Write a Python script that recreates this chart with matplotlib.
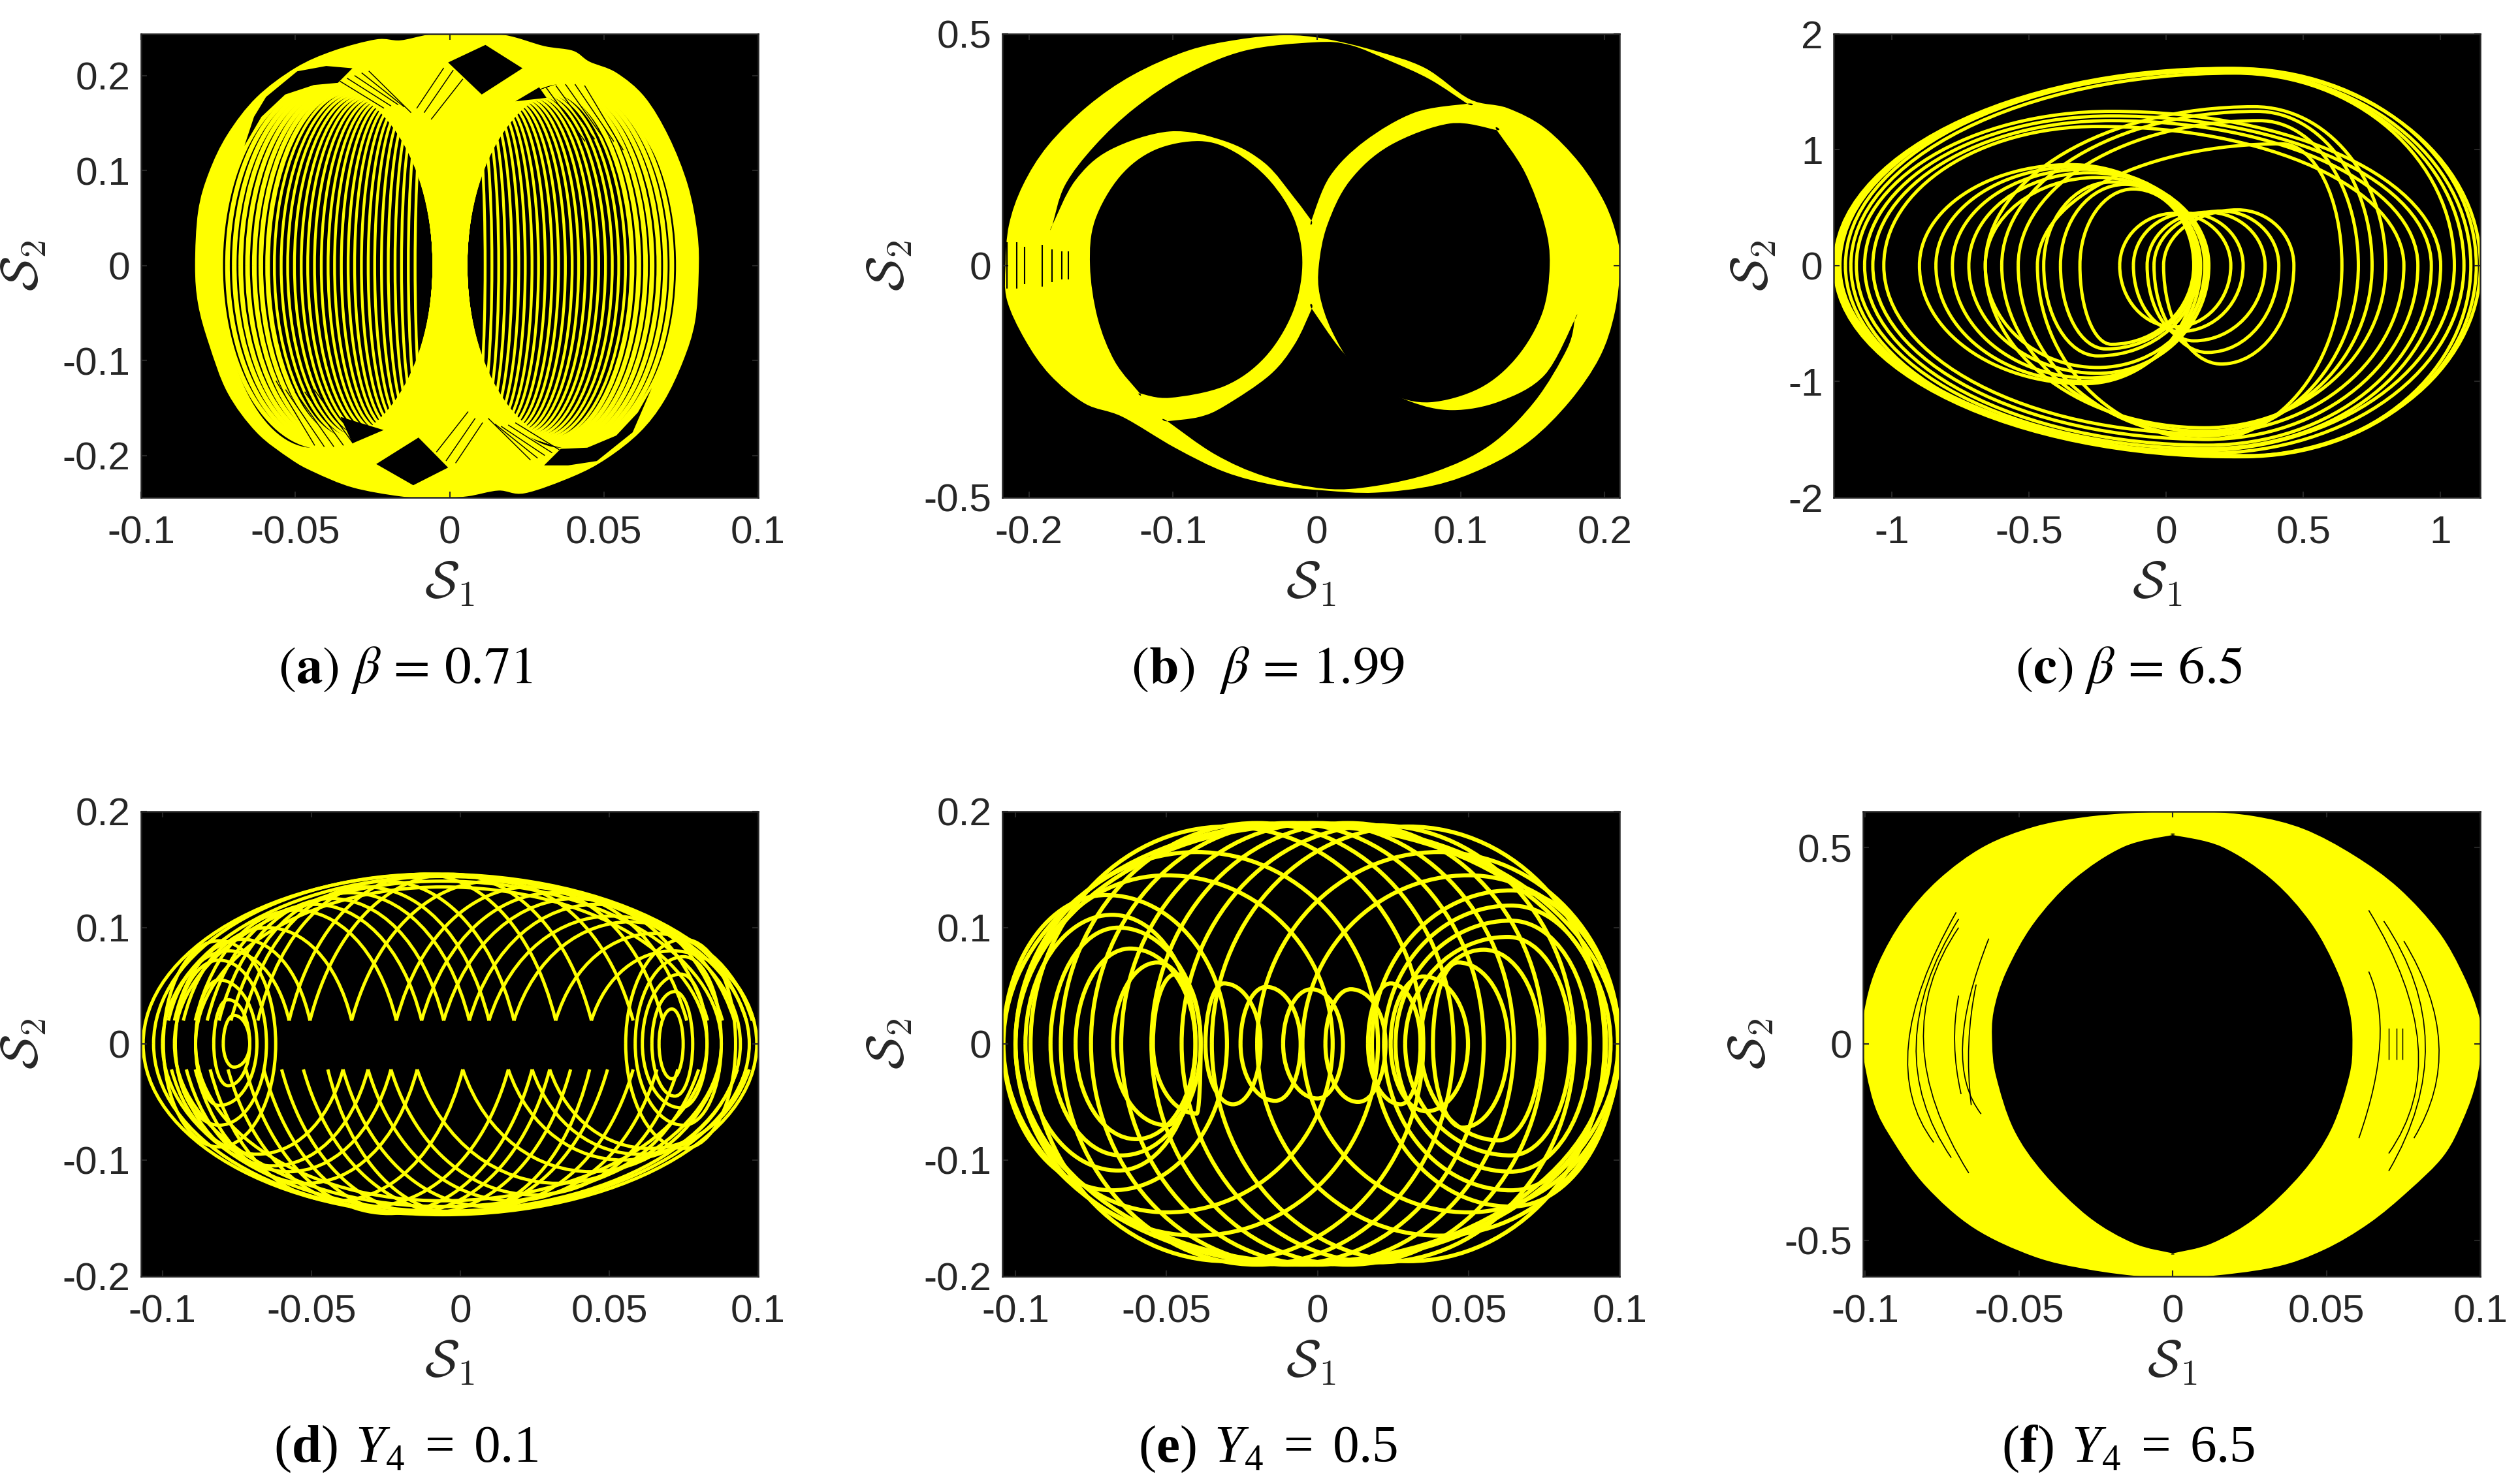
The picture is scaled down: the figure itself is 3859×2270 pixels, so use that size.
import numpy as np
import matplotlib
matplotlib.use("Agg")
import matplotlib.pyplot as plt
from matplotlib.path import Path
from matplotlib.patches import PathPatch

W, H = 3859, 2270
YEL = "#ffff00"
DARK = "#262626"
plt.rcParams["font.family"] = ["Liberation Sans", "DejaVu Sans"]
plt.rcParams["axes.unicode_minus"] = False
# caption font for the Upsilon panels: \mathrm gives the italic Upsilon, \mathsf the plain text
plt.rcParams["mathtext.rm"] = "Liberation Serif:italic"
plt.rcParams["mathtext.sf"] = "Liberation Serif"
plt.rcParams["mathtext.bf"] = "Liberation Serif:bold"

# --- panel (a): outline, black gaps, ring families, hatch strokes
A_OUT_X = [-.0825,-.0815,-.078,-.072,-.0626,-.050,-.0377,-.0238,-.016,-.0067,.0042,.018,.0306,.040,.0453,.054,.0632,.071,.0772,.0803,.0807,.0795,.0756,.0694,.0616,.0508,.040,.0244,.0158,.0057,-.005,-.016,-.0315,-.044,-.0517,-.0626,-.072,-.078,-.0815]
A_OUT_Y = [0,.057,.098,.138,.177,.208,.226,.238,.237,.243,.245,.2425,.231,.226,.2146,.203,.1774,.1356,.0845,.0334,-.0084,-.0595,-.101,-.143,-.1756,-.2034,-.222,-.2397,-.2369,-.243,-.245,-.243,-.2336,-.2174,-.2034,-.1756,-.1338,-.0827,-.041]
A_GAPS = [
    ([-.0494,-.040,-.0315,-.0362,-.044,-.0533,-.061,-.0665,-.0634,-.0595], [.2044,.21,.2076,.1923,.19,.18,.1565,.126,.1565,.1774]),
    ([.0477,.0384,.0306,.036,.0446,.054,.061,.0655,.0593], [-.2058,-.2104,-.2104,-.193,-.1918,-.179,-.1547,-.129,-.1756]),
    ([-.0005,.0116,.0236,.0104], [.2137,.2322,.2076,.18]),
    ([-.0238,-.0118,-.0005,-.0101], [-.209,-.2313,-.2127,-.1811]),
    ([.0213,.029,.0314], [.1728,.1876,.1765]),
    ([-.0315,-.0214,-.0354], [-.1872,-.1732,-.1593]),
]
A_LEFT_XL = [-.0742,-.072,-.0698,-.0677,-.0655,-.0633,-.0612,-.059,-.0568,-.0546,-.0525,-.0503,-.0481,-.046,-.0438,-.0416,-.0394,-.0373,-.0351,-.0329,-.0308,-.0286,-.0264,-.0243,-.0221,-.0199,-.0177,-.0156,-.0134,-.0112]
A_LEFT_YT = [.191,.19,.189,.188,.187,.186,.185,.184,.183,.182,.181,.18,.179,.178,.177,.176,.175,.174,.173,.172,.171,.17,.169,.168,.166,.164,.162,.16,.158,.155]
A_RIGHT_XR = [.0741,.072,.0699,.0678,.0656,.0635,.0613,.0591,.057,.0548,.0527,.0505,.0483,.0462,.044,.0418,.0397,.0375,.0353,.0332,.031,.0288,.0267,.0245,.0224,.0202,.018,.0159,.0137,.0115]
A_RIGHT_YT = [.191,.19,.189,.188,.187,.186,.185,.184,.183,.182,.181,.18,.179,.178,.177,.176,.175,.174,.173,.172,.171,.17,.169,.168,.166,.164,.162,.16,.158,.155]
A_HATCH_X0 = [-.0354,-.0331,-.0307,-.0284,-.0261,.0314,.0345,.0376,.0407,.0438,-.0106,-.0082,-.0059,.0354,.0331,.0307,.0284,.0261,-.0314,-.0345,-.0376,-.0407,-.0438,.0106,.0082,.0059]
A_HATCH_Y0 = [.1937,.1969,.1997,.2025,.2044,.1867,.189,.1904,.1904,.189,.1658,.1612,.1542,-.1937,-.1969,-.1997,-.2025,-.2044,-.1867,-.189,-.1904,-.1904,-.189,-.1658,-.1612,-.1542]
A_HATCH_X1 = [-.0214,-.0191,-.0168,-.0148,-.0126,.0438,.0469,.05,.0531,.0562,-.002,.0011,.0042,.0214,.0191,.0168,.0148,.0126,-.0438,-.0469,-.05,-.0531,-.0562,.002,-.0011,-.0042]
A_HATCH_Y1 = [.1658,.1681,.1695,.1672,.1612,.131,.1333,.1333,.131,.1217,.2076,.2053,.196,-.1658,-.1681,-.1695,-.1672,-.1612,-.131,-.1333,-.1333,-.131,-.1217,-.2076,-.2053,-.196]

# --- panel (b): outline and holes
B_OUT_X = [-.2163,-.2139,-.2042,-.1868,-.1590,-.1278,-.0896,-.0549,-.0222,.0056,.0403,.075,.1062,.1323,.1583,.1826,.2,.2087,.2108,.2069,.1965,.1757,.1479,.1167,.0819,.0403,.0056,-.0292,-.0639,-.0986,-.1351,-.1611,-.1854,-.2028,-.2153]
B_OUT_Y = [0,.0875,.1732,.2588,.3444,.4110,.4634,.4872,.4967,.4891,.4634,.4262,.3587,.3397,.2969,.2207,.1351,.0590,0,-.1028,-.1979,-.2931,-.3787,-.4358,-.4739,-.4900,-.4853,-.4738,-.4453,-.393,-.3263,-.2978,-.2359,-.1598,-.0742]
B_UP_X = [-.1837,-.1837,-.175,-.1542,-.1264,-.0917,-.05,-.0014,.0229,.0507,.0785,.1045,.1045,.0681,.0333,.009,-.0038,-.0038,-.0153,-.0361,-.0639,-.1021,-.1437,-.168]
B_UP_Y = [.0875,.0875,.173,.2588,.3397,.411,.4634,.4815,.4757,.4415,.4015,.349,.349,.33,.2683,.192,.097,.097,.1446,.2207,.2683,.2892,.2493,.1827]
B_LOW_X = [-.1038,-.1038,-.0708,-.0361,.0056,.0403,.0819,.1201,.1514,.174,.1792,.1792,.1583,.1271,.0941,.0646,.0368,.016,-.0035,-.0035,-.0153,-.0326,-.0639,-.0813]
B_LOW_Y = [-.3359,-.3359,-.4072,-.4548,-.4814,-.4757,-.4453,-.388,-.293,-.1789,-.117,-.117,-.236,-.293,-.312,-.293,-.2455,-.1789,-.0932,-.0932,-.1694,-.236,-.3026,-.3264]
B_LL_X = [-.1576,-.1542,-.1368,-.1125,-.0813,-.0569,-.0326,-.0153,-.0101,-.017,-.0361,-.0639,-.1021,-.1229,-.1229,-.1403,-.1524]
B_LL_Y = [0,.097,.192,.2493,.2683,.2445,.1827,.097,0,-.1028,-.198,-.2598,-.2854,-.2759,-.2759,-.2074,-.1123]
B_RL_X = [.0014,.0073,.0229,.0507,.0924,.125,.125,.1444,.1583,.1618,.1566,.1389,.1132,.0785,.0507,.0264,.0104,.0021]
B_RL_Y = [0,.0875,.1827,.2588,.3063,.2921,.2921,.2017,.0875,0,-.1028,-.1979,-.2645,-.2950,-.2760,-.2207,-.1408,-.0647]
B_SLIT_X = [-.2153,-.2083,-.2031,-.1910,-.1840,-.1771,-.1726]
B_SLIT_H = [.05,.05,.04,.045,.035,.03,.03]

# --- panel (c): loops xl, xr, yt, xt, yb, xb
C_XL = [-1.21,-1.20,-1.19,-1.17,-1.15,-1.13,-1.10,-1.07,-1.03,-.66,-.60,-.54,-.47,-.90,-.84,-.78,-.72,-.66,-.447,-.386,-.315,-.17,-.12,-.07,-.045,-.01]
C_XR = [1.145,1.13,1.11,1.085,1.05,1.0,.966,.917,.866,.80,.75,.70,.64,.11,.125,.14,.155,.145,.12,.11,.10,.235,.28,.36,.41,.465]
C_YT = [1.70,1.70,1.69,1.68,1.66,1.33,1.29,1.25,1.2,1.37,1.33,1.25,1.05,.87,.85,.83,.80,.76,.72,.70,.66,.45,.45,.46,.47,.48]
C_XT = [.22,.25,.2,.2,.25,-.2,-.2,-.2,-.25,.32,.33,.34,.42,-.35,-.33,-.3,-.28,-.25,-.2,-.15,-.12,.03,.08,.15,.2,.26]
C_YB = [-1.65,-1.65,-1.64,-1.62,-1.6,-1.58,-1.55,-1.5,-1.45,-1.40,-1.43,-1.47,-1.5,-1.02,-1.0,-.97,-.93,-.88,-.78,-.72,-.68,-.53,-.57,-.65,-.75,-.85]
C_XB = [.25,.28,.3,.15,.1,.15,.15,.15,.14,.14,.14,.14,.15,-.3,-.3,-.28,-.25,-.25,-.25,-.22,-.2,.03,.05,.1,.15,.2]

# --- panel (d): outer loops, side spirals, top and bottom arches
D_XL = [-.1065,-.103,-.1,-.096,-.0889,-.0796,-.0828,-.0889,-.0957,-.0997,.0667,.0643,.0611,.0587,.0555]
D_XR = [.0995,.097,.094,.0876,.0828,-.0707,-.0707,-.0683,-.0651,-.062,.0748,.078,.0828,.0876,.0924]
D_YT = [.146,.146,.144,.14,.135,.0245,.038,.055,.072,.0887,.03,.045,.06,.075,.09]
D_XT = [-.008,-.01,-.006,-.006,-.006,-.076,-.078,-.081,-.081,-.081,.071,.072,.074,.075,.075]
D_YB = [-.147,-.146,-.144,-.14,-.135,-.02,-.036,-.053,-.07,-.0887,-.03,-.045,-.055,-.07,-.09]
D_XB = [-.006,-.008,-.006,-.006,-.006,-.076,-.078,-.081,-.081,-.081,.071,.072,.074,.075,.075]
D_TOP_A = [-.0575,-.0505,-.0365,-.0215,-.013,-.0056,.003,.0096,.018,.032,.044,-.098,-.096,-.093,-.089,-.085,-.081,-.077,-.073,-.068]
D_TOP_B = [.032,.044,.058,.068,.076,.083,.088,.092,.096,.098,.0985,-.0575,-.0505,-.0365,-.0215,-.013,-.0056,.003,.0096,.018]
D_TOP_P = [.146,.146,.14,.135,.13,.125,.12,.11,.105,.095,.08,.08,.09,.1,.115,.12,.125,.13,.135,.14]
D_BOT_A = [-.0527,-.0445,-.0394,-.031,-.0233,-.0145,.0008,.0161,.0241,.03,-.06,-.066,-.072,-.078,-.084,-.089,-.092,-.095,-.097]
D_BOT_B = [.0494,.0434,.058,.066,.073,.08,.087,.093,.096,.097,.037,.03,.0241,.0161,.0008,-.0145,-.0233,-.031,-.0394]
D_BOT_P = [-.146,-.146,-.14,-.135,-.13,-.12,-.11,-.1,-.095,-.09,-.146,-.146,-.146,-.14,-.135,-.12,-.11,-.105,-.095]

# --- panel (e): ring chain, side rings, big lattice loops
E_XL = [-.0677,-.0545,-.0371,-.0255,-.0114,.0026,.0167,.0242,.0382,.0341,.029,.0258,.022,.018,-.0801,-.0884,-.0967,-.1041,-.104,-.1,-.095,-.085,-.075,-.065,-.055,-.045,-.035,-.1,-.02,-.1,-.005]
E_XR = [-.0404,-.0387,-.0189,-.0056,.0084,.0225,.0341,.0498,.0631,.0738,.0838,.0901,.0955,.0995,-.0404,-.0387,-.0404,-.03,.0995,.097,.035,.045,.055,.065,.075,.085,.095,.02,.1,.005,.1]
E_YT = [.07,.06,.052,.049,.047,.047,.052,.058,.07,.081,.092,.106,.119,.132,.082,.1,.111,.128,.19,.188,.187,.19,.19,.19,.19,.188,.187,.165,.165,.145,.145]
E_XT = [-.053,-.047,-.031,-.017,-.002,.011,.0242,.035,.0465,.055,.063,.064,.064,.064,-.062,-.066,-.068,-.07,-.005,-.005,-.03,-.02,-.01,0,.01,.02,.03,-.04,.04,-.05,.05]
E_YB = [-.07,-.06,-.052,-.049,-.047,-.05,-.052,-.058,-.072,-.083,-.096,-.11,-.126,-.14,-.082,-.096,-.109,-.126,-.19,-.188,-.187,-.19,-.19,-.19,-.19,-.188,-.187,-.165,-.165,-.145,-.145]
E_XB = [-.05,-.04,-.028,-.014,0,.0134,.0275,.036,.048,.06,.064,.064,.064,.064,-.06,-.065,-.066,-.068,-.005,-.005,-.03,-.02,-.01,0,.01,.02,.03,-.04,.04,-.05,.05]

# --- panel (f): outline, lens hole, thin slits
F_OUT_X = [-.101,-.0997,-.0956,-.0875,-.0761,-.0615,-.0452,-.029,-.0127,.0085,.0263,.0426,.0589,.0735,.0865,.0946,.0995,.1003,.0987,.0945,.0881,.0767,.0637,.0491,.0328,.0085,-.0078,-.0273,-.0452,-.0647,-.0802,-.0907,-.0972]
F_OUT_Y = [0,.106,.2065,.318,.4185,.502,.5525,.577,.588,.5915,.58,.547,.48,.396,.2846,.173,.0725,0,-.095,-.19,-.2846,-.374,-.4576,-.5246,-.5692,-.5937,-.5937,-.5748,-.5413,-.4688,-.363,-.25,-.15]
F_HOLE_X = [0,0,-.0159,-.0322,-.0452,-.0541,-.0582,-.0587,-.0574,-.0517,-.042,-.0273,-.0127,0,0,.0127,.0273,.042,.0515,.0573,.0584,.0575,.0535,.045,.0322,.0159]
F_HOLE_Y = [.532,.532,.502,.4185,.307,.184,.0837,0,-.0837,-.2176,-.329,-.441,-.508,-.5335,-.5335,-.508,-.441,-.329,-.2176,-.0837,0,.0837,.184,.307,.4185,.502]
F_SLIT_X0 = [-.0704,-.0696,-.0696,-.0598,-.0639,-.0696,.0637,.0686,.0751,.0637]
F_SLIT_Y0 = [.335,.318,.296,.268,.151,.123,.34,.3125,.262,.184]
F_SLIT_XM = [-.0859,-.0834,-.081,-.0683,-.0663,-.0709,.0797,.0821,.0865,.0673]
F_SLIT_X1 = [-.0777,-.072,-.0663,-.0623,-.0655,-.0688,.0702,.0702,.0784,.0605]
F_SLIT_Y1 = [-.251,-.29,-.329,-.1786,-.156,-.128,-.279,-.3237,-.24,-.24]
F_DASH_X = [.0702,.0727,.0746]

# --- ticks
XTICKS_S = [-.1, -.05, 0, .05, .1]
XLAB_S = ["-0.1", "-0.05", "0", "0.05", "0.1"]
UPS = r"$\mathsf{(}\mathbf{%s}\mathsf{)}\ \mathrm{Υ}_{\mathsf{4}}\,\mathsf{=}\,\mathsf{%s}$"
PANELS = {
    "a": dict(box=(216, 1161, 52, 762), xlim=(-.1, .1), ylim=(-.244, .244), xt=XTICKS_S, xl=XLAB_S,
              yt=[-.2, -.1, 0, .1, .2], yl=["-0.2", "-0.1", "0", "0.1", "0.2"],
              cap=r"$(\mathbf{a})\ \beta\,=\,0.71$", capx=621, ylx=37, mf="stix"),
    "b": dict(box=(1535, 2480, 52, 762), xlim=(-.2184, .2104), ylim=(-.5, .5), xt=[-.2, -.1, 0, .1, .2],
              xl=["-0.2", "-0.1", "0", "0.1", "0.2"], yt=[-.5, 0, .5], yl=["-0.5", "0", "0.5"],
              cap=r"$(\mathbf{b})\ \ \beta\,=\,1.99$", capx=1941, ylx=1363, mf="stix"),
    "c": dict(box=(2808, 3798, 52, 762), xlim=(-1.212, 1.145), ylim=(-2, 2), xt=[-1, -.5, 0, .5, 1],
              xl=["-1", "-0.5", "0", "0.5", "1"], yt=[-2, -1, 0, 1, 2], yl=["-2", "-1", "0", "1", "2"],
              cap=r"$(\mathbf{c})\ \beta\,=\,6.5$", capx=3260, ylx=2686, mf="stix"),
    "d": dict(box=(216, 1161, 1243, 1955), xlim=(-.1072, .1), ylim=(-.2, .2), xt=XTICKS_S, xl=XLAB_S,
              yt=[-.2, -.1, 0, .1, .2], yl=["-0.2", "-0.1", "0", "0.1", "0.2"],
              cap=UPS % ("d", "0.1"), capx=621, ylx=37, mf="custom"),
    "e": dict(box=(1535, 2480, 1243, 1955), xlim=(-.1043, .1), ylim=(-.2, .2), xt=XTICKS_S, xl=XLAB_S,
              yt=[-.2, -.1, 0, .1, .2], yl=["-0.2", "-0.1", "0", "0.1", "0.2"],
              cap=UPS % ("e", "0.5"), capx=1941, ylx=1363, mf="custom"),
    "f": dict(box=(2853, 3798, 1243, 1955), xlim=(-.1006, .1), ylim=(-.592, .592), xt=XTICKS_S, xl=XLAB_S,
              yt=[-.5, 0, .5], yl=["-0.5", "0", "0.5"],
              cap=UPS % ("f", "6.5"), capx=3259, ylx=2682, mf="custom"),
}


def loop_path(xl, xr, yt, xt, yb, xb):
    """Closed egg through (xl,0), (xt,yt), (xr,0), (xb,yb)."""
    k = 0.5523
    v = [(xl, 0),
         (xl, k*yt), (xt - k*(xt-xl), yt), (xt, yt),
         (xt + k*(xr-xt), yt), (xr, k*yt), (xr, 0),
         (xr, k*yb), (xb + k*(xr-xb), yb), (xb, yb),
         (xb - k*(xb-xl), yb), (xl, k*yb), (xl, 0)]
    return Path(v, [Path.MOVETO] + [Path.CURVE4]*12)


def smooth_path(xs, ys):
    """Closed Catmull-Rom curve through the read outline; a doubled vertex stays a corner."""
    p = np.column_stack([xs, ys])
    n = len(p)
    v = [p[0]]
    c = [Path.MOVETO]
    for i in range(n):
        p0, p1, p2, p3 = p[i-1], p[i], p[(i+1) % n], p[(i+2) % n]
        v += [p1 + (p2 - p0)/6, p2 - (p3 - p1)/6, p2]
        c += [Path.CURVE4]*3
    return Path(v, c)


def fill(ax, path, color):
    ax.add_patch(PathPatch(path, fc=color, ec="none", lw=0))


def draw_loops(ax, xl, xr, yt, xt, yb, xb, lw):
    for row in zip(xl, xr, yt, xt, yb, xb):
        ax.add_patch(PathPatch(loop_path(*row), fc="none", ec=YEL, lw=lw))


def draw_arches(ax, xa, xb, peak, foot, lw):
    for a, b, p in zip(xa, xb, peak):
        w = b - a
        c = foot + 4/3*(p - foot)
        path = Path([(a, foot), (a + .18*w, c), (b - .18*w, c), (b, foot)],
                    [Path.MOVETO, Path.CURVE4, Path.CURVE4, Path.CURVE4])
        ax.add_patch(PathPatch(path, fc="none", ec=YEL, lw=lw))


def panel_a(ax):
    fill(ax, smooth_path(A_OUT_X, A_OUT_Y), YEL)
    fill(ax, loop_path(-.0742, -.0048, .191, -.041, -.192, -.044), "black")
    fill(ax, loop_path(.005, .0741, .191, .0368, -.192, .0368), "black")
    for i, (xl, yt) in enumerate(zip(A_LEFT_XL, A_LEFT_YT)):
        xt = xl + (-.0048 - xl)*.48
        lw = 1.7 if i < 8 else 1.05
        ax.add_patch(PathPatch(loop_path(xl, -.0048, yt, xt, -yt, xt), fc="none", ec=YEL, lw=lw))
    for i, (xr, yt) in enumerate(zip(A_RIGHT_XR, A_RIGHT_YT)):
        xt = xr - (xr - .005)*.48
        lw = 1.7 if i < 8 else 1.05
        ax.add_patch(PathPatch(loop_path(.005, xr, yt, xt, -yt, xt), fc="none", ec=YEL, lw=lw))
    for xs, ys in A_GAPS:
        ax.fill(xs, ys, color="black", lw=0)
    for x0, y0, x1, y1 in zip(A_HATCH_X0, A_HATCH_Y0, A_HATCH_X1, A_HATCH_Y1):
        ax.plot([x0, x1], [y0, y1], color="black", lw=.35)


def panel_b(ax):
    fill(ax, smooth_path(B_OUT_X, B_OUT_Y), YEL)
    for xs, ys in [(B_UP_X, B_UP_Y), (B_LOW_X, B_LOW_Y), (B_LL_X, B_LL_Y), (B_RL_X, B_RL_Y)]:
        fill(ax, smooth_path(xs, ys), "black")
    ax.vlines(B_SLIT_X, [-h for h in B_SLIT_H], B_SLIT_H, color="black", lw=.5)


def panel_c(ax):
    draw_loops(ax, C_XL, C_XR, C_YT, C_XT, C_YB, C_XB, 1.2)


def panel_d(ax):
    draw_loops(ax, D_XL, D_XR, D_YT, D_XT, D_YB, D_XB, 1.2)
    draw_arches(ax, D_TOP_A, D_TOP_B, D_TOP_P, .02, 1.2)
    draw_arches(ax, D_BOT_A, D_BOT_B, D_BOT_P, -.022, 1.2)


def panel_e(ax):
    draw_loops(ax, E_XL, E_XR, E_YT, E_XT, E_YB, E_XB, 1.5)


def panel_f(ax):
    fill(ax, smooth_path(F_OUT_X, F_OUT_Y), YEL)
    fill(ax, smooth_path(F_HOLE_X, F_HOLE_Y), "black")
    for x0, y0, xm, x1, y1 in zip(F_SLIT_X0, F_SLIT_Y0, F_SLIT_XM, F_SLIT_X1, F_SLIT_Y1):
        cx = 2*xm - (x0 + x1)/2
        cy = -(y0 + y1)/2
        path = Path([(x0, y0), (cx, cy), (x1, y1)], [Path.MOVETO, Path.CURVE3, Path.CURVE3])
        ax.add_patch(PathPatch(path, fc="none", ec="black", lw=.4))
    ax.vlines(F_DASH_X, -.04, .04, color="black", lw=.35)


DRAW = dict(a=panel_a, b=panel_b, c=panel_c, d=panel_d, e=panel_e, f=panel_f)

fig = plt.figure(figsize=((W + .4)/300, (H + .4)/300), dpi=300, facecolor="white")
for key, p in PANELS.items():
    l, r, t, b = p["box"]
    ax = fig.add_axes([l/W, 1 - b/H, (r - l)/W, (b - t)/H], facecolor="black")
    DRAW[key](ax)
    ax.set_xlim(p["xlim"])
    ax.set_ylim(p["ylim"])
    ax.set_xticks(p["xt"], p["xl"])
    ax.set_yticks(p["yt"], p["yl"])
    ax.tick_params(direction="in", top=True, right=True, length=2.2, width=.5, color=DARK,
                   labelcolor=DARK, labelsize=14.5, pad=4)
    ax.tick_params(axis="x", pad=6.5)
    for s in ax.spines.values():
        s.set_color(DARK)
        s.set_linewidth(.6)
    ylab_y = 1 - (t + b)/2/H
    xlab_y = 1 - (b + 133)/H
    ax.set_xlabel(r"$\mathcal{S}_1$", fontsize=19, color=DARK, math_fontfamily="cm")
    ax.xaxis.set_label_coords((l + r)/2/W, xlab_y, transform=fig.transFigure)
    ax.xaxis.label.set_va("center")
    ax.set_ylabel(r"$\mathcal{S}_2$", fontsize=19, color=DARK, math_fontfamily="cm")
    ax.yaxis.set_label_coords(p["ylx"]/W, ylab_y, transform=fig.transFigure)
    ax.yaxis.label.set_va("center")
    fig.text(p["capx"]/W, 1 - (b + 264)/H, p["cap"], ha="center", va="center", fontsize=19.5,
             color="black", math_fontfamily=p["mf"])

fig.savefig("out.png", dpi=300)
